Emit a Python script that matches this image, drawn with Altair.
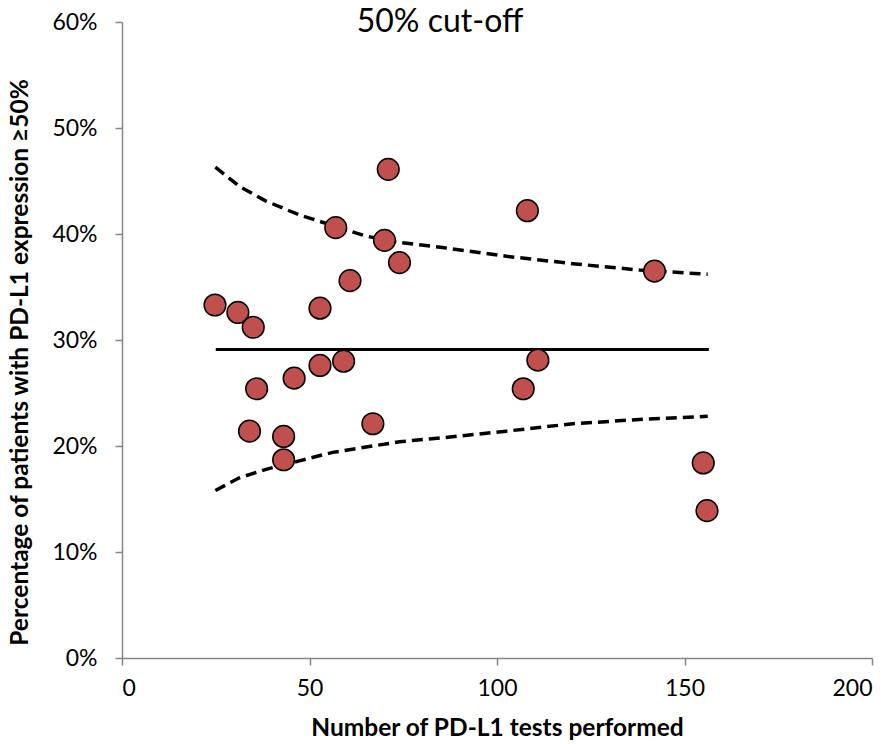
import altair as alt
import pandas as pd

# Scatter points: number of tests vs percentage with PD-L1 >= 50%
tests = [24.8, 30.9, 35.0, 35.9, 34.0, 43.1, 43.1, 45.9, 52.8, 52.8, 59.1, 57.0,
         60.8, 66.9, 71.0, 70.0, 74.0, 108.1, 110.9, 107.0, 142.0, 155.0, 156.0]
pct = [33.3, 32.6, 31.2, 25.4, 21.4, 20.9, 18.7, 26.4, 33.0, 27.6, 28.0, 40.6,
       35.6, 22.1, 46.1, 39.4, 37.3, 42.2, 28.1, 25.4, 36.5, 18.4, 13.9]

# Mean line
mean_x = [25.0, 156.5]
mean_pct = [29.1, 29.1]

# Control limits (dashed)
limit_x = [24.9, 31.3, 38.4, 47.3, 56.2, 65.1, 74.0, 86.0, 102.5, 120.2, 138.0, 156.2]
upper_pct = [46.3, 44.5, 43.1, 41.8, 40.8, 39.8, 39.2, 38.7, 37.9, 37.2, 36.6, 36.2]
lower_pct = [15.8, 17.0, 17.8, 18.6, 19.4, 19.9, 20.4, 20.8, 21.4, 22.1, 22.5, 22.8]

x_ticks = [0, 50, 100, 150, 200]
y_ticks = [0, 10, 20, 30, 40, 50, 60]

pts = pd.DataFrame({"x": tests, "y": pct})
mean_df = pd.DataFrame({"x": mean_x, "y": mean_pct})
lim_df = pd.concat([
    pd.DataFrame({"x": limit_x, "y": upper_pct, "g": "upper"}),
    pd.DataFrame({"x": limit_x, "y": lower_pct, "g": "lower"}),
])

FONT = "Lato"
xs = alt.Scale(domain=[0, 200], nice=False, zero=True)
ys = alt.Scale(domain=[0, 60], nice=False, zero=True)

x_axis = alt.Axis(values=x_ticks, title="Number of PD-L1 tests performed",
                  grid=False, labelFontSize=23, titleFontSize=24.5,
                  titleFontWeight="bold", labelPadding=12, titlePadding=16,
                  tickSize=7)
y_axis = alt.Axis(values=y_ticks, labelExpr="datum.value + '%'",
                  title="Percentage of patients with PD-L1 expression ≥50%",
                  grid=False, labelFontSize=23, titleFontSize=24.5,
                  titleFontWeight="bold", labelPadding=18, titlePadding=19,
                  titleY=340, tickSize=7)

base_x = alt.X("x:Q", scale=xs, axis=x_axis)
base_y = alt.Y("y:Q", scale=ys, axis=y_axis)

limits = alt.Chart(lim_df).mark_line(color="black", strokeWidth=3.5,
                                     strokeDash=[11, 6]).encode(
    x=base_x, y=base_y, detail="g:N")

mean_line = alt.Chart(mean_df).mark_line(color="black", strokeWidth=3).encode(
    x=base_x, y=base_y)

points = alt.Chart(pts).mark_point(filled=True, fill="#C0504D", stroke="black",
                                   strokeWidth=1.5, size=470, opacity=1,
                                   fillOpacity=1, shape="circle").encode(
    x=base_x, y=base_y)

chart = alt.layer(limits, mean_line, points).properties(
    width=750, height=636,
    title=alt.TitleParams("50% cut-off", fontSize=32, font=FONT,
                          fontWeight="normal", anchor="middle", dx=-57,
                          offset=-28, color="black"),
    autosize=alt.AutoSizeParams(type="none"),
    padding={"left": 122, "top": 22, "right": 24, "bottom": 86},
).configure_view(stroke=None).configure_axis(
    labelFont=FONT, titleFont=FONT, labelColor="black", titleColor="black",
    domainColor="#868686", tickColor="#868686", domainWidth=1.5, tickWidth=1.5,
)

chart.save("out.html", embed_options={"renderer": "svg", "actions": False})
